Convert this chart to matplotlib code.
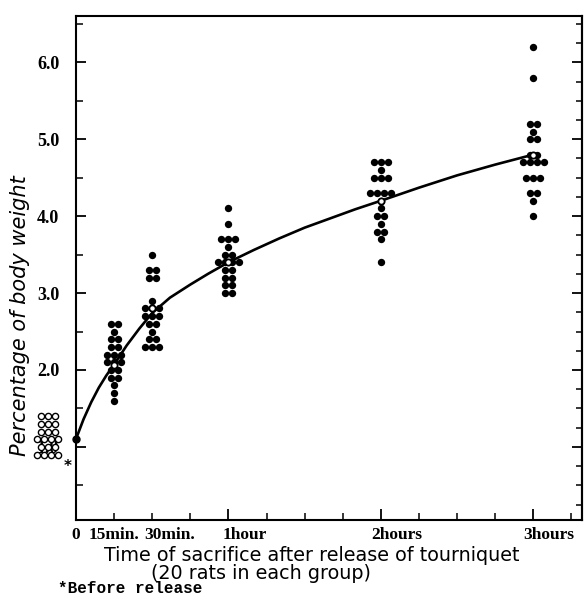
import numpy as np
import matplotlib.pyplot as plt
import matplotlib.transforms as mtransforms

# minutes after release of tourniquet
group_times = [15, 30, 60, 120, 180]
before_time = -11

# percentage of body weight, 20 rats per group
vals_before = [1.4, 1.4, 1.4, 1.3, 1.3, 1.3, 1.2, 1.2, 1.2, 1.1, 1.1, 1.1, 1.1,
               1.0, 1.0, 1.0, 0.9, 0.9, 0.9, 0.9]
vals_15min = [2.6, 2.6, 2.5, 2.4, 2.4, 2.3, 2.3, 2.2, 2.2, 2.2, 2.1, 2.1, 2.1,
              2.0, 2.0, 1.9, 1.9, 1.8, 1.7, 1.6]
vals_30min = [3.5, 3.3, 3.3, 3.2, 3.2, 2.9, 2.8, 2.8, 2.8, 2.7, 2.7, 2.7, 2.6,
              2.6, 2.5, 2.4, 2.4, 2.3, 2.3, 2.3]
vals_1h = [4.1, 3.9, 3.7, 3.7, 3.7, 3.6, 3.5, 3.5, 3.4, 3.4, 3.4, 3.4, 3.3,
           3.3, 3.2, 3.2, 3.1, 3.1, 3.0, 3.0]
vals_2h = [4.7, 4.7, 4.7, 4.6, 4.5, 4.5, 4.5, 4.3, 4.3, 4.3, 4.3, 4.2, 4.1,
           4.0, 4.0, 3.9, 3.8, 3.8, 3.7, 3.4]
vals_3h = [6.2, 5.8, 5.2, 5.2, 5.1, 5.0, 5.0, 4.8, 4.8, 4.7, 4.7, 4.7, 4.7,
           4.5, 4.5, 4.5, 4.3, 4.3, 4.2, 4.0]
group_means = [2.07, 2.8, 3.4, 4.2, 4.8]

# fitted curve
curve_t = [0, 3, 6, 9, 12, 15, 20, 25, 30, 37, 45, 52, 60, 70, 80, 90, 100,
           110, 120, 135, 150, 165, 180]
curve_v = [1.1, 1.36, 1.58, 1.77, 1.93, 2.07, 2.32, 2.54, 2.74, 2.94, 3.11, 3.25,
           3.40, 3.56, 3.71, 3.85, 3.97, 4.09, 4.20, 4.37, 4.53, 4.67, 4.80]

xtick_pos = [0, 15, 30, 60, 120, 180]
xtick_text = ["0", "15min.", "30min.", "1hour", "2hours", "3hours"]
ytick_pos = [1, 2, 3, 4, 5, 6]
ytick_text = ["1.0", "2.0", "3.0", "4.0", "5.0", "6.0"]


def swarm(center, vals, spacing=2.75):
    xs, ys = [], []
    for v in sorted(set(vals)):
        n = vals.count(v)
        for i in range(n):
            xs.append(center + (i - (n - 1) / 2) * spacing)
            ys.append(v)
    return xs, ys


fig = plt.figure(figsize=(5.84, 5.97), dpi=100)
ax = fig.add_axes([0.130, 0.129, 0.866, 0.844])

ax.plot(curve_t, curve_v, color="black", lw=1.9, zorder=2, clip_on=False)
ax.plot(curve_t[0], curve_v[0], "o", color="black", ms=5, zorder=4, clip_on=False)

for t, vals in zip(group_times, [vals_15min, vals_30min, vals_1h, vals_2h, vals_3h]):
    xs, ys = swarm(t, vals)
    ax.scatter(xs, ys, s=28, color="black", zorder=3, linewidths=0)

ax.plot(group_times, group_means, "o", ms=4.5, mfc="white", mec="black", mew=1.3,
        ls="none", zorder=5)

xs, ys = swarm(before_time, vals_before)
ax.scatter(xs, ys, s=20, facecolor="white", edgecolor="black", linewidths=1.0,
           zorder=6, clip_on=False)
ax.text(-3.2, 0.74, "*", fontsize=11, fontweight="bold", ha="center", va="center",
        clip_on=False)

ax.set_xlim(0, 199)
ax.set_ylim(0.05, 6.6)

for sp in ax.spines.values():
    sp.set_linewidth(1.5)

ax.set_xticks([0, 60, 120, 180])
ax.set_xticks(np.arange(0, 199, 15), minor=True)
ax.tick_params(axis="x", which="major", direction="in", length=8, width=1.3, labelbottom=False)
ax.tick_params(axis="x", which="minor", direction="in", length=5, width=1.1)

ax.set_yticks(ytick_pos)
ax.set_yticks(np.arange(0.5, 6.6, 0.5), minor=True)
ax.set_yticklabels(ytick_text, fontsize=13, fontweight="bold", family="Liberation Serif")
ax.tick_params(axis="y", which="major", direction="in", length=7, width=1.3, pad=12)
ax.tick_params(axis="y", which="minor", direction="in", length=5, width=1.1)

sec = ax.secondary_yaxis("right")
sec.set_yticks(ytick_pos)
sec.set_yticks(np.arange(0.25, 6.6, 0.25), minor=True)
sec.tick_params(axis="y", which="major", direction="in", length=7, width=1.3, labelright=False)
sec.tick_params(axis="y", which="minor", direction="in", length=4, width=1.1)
sec.spines["right"].set_linewidth(1.5)

# x labels: hour labels start a little left of their tick
xt = ax.get_xaxis_transform()
shifts = [0, 0, -6, -4, -7, -7]
aligns = ["center", "center", "left", "left", "left", "left"]
for pos, txt, dx, ha in zip(xtick_pos, xtick_text, shifts, aligns):
    off = mtransforms.ScaledTranslation(dx / 72, 0, fig.dpi_scale_trans)
    ax.text(pos, -0.014, txt, transform=xt + off, ha=ha, va="top",
            fontsize=12.5, fontweight="bold", family="Liberation Serif")

ax.text(-0.11, 0.405, "Percentage of body weight", transform=ax.transAxes,
        rotation=90, ha="center", va="center", fontsize=15, style="italic")

fig.text(0.533, 0.070, "Time of sacrifice after release of tourniquet",
         ha="center", va="center", fontsize=13.8)
fig.text(0.447, 0.040, "(20 rats in each group)", ha="center", va="center", fontsize=13.8)
fig.text(0.100, 0.014, "*Before release", ha="left", va="center", fontsize=11.5,
         family="Liberation Mono", fontweight="bold")

fig.savefig("out.png", dpi=100)
